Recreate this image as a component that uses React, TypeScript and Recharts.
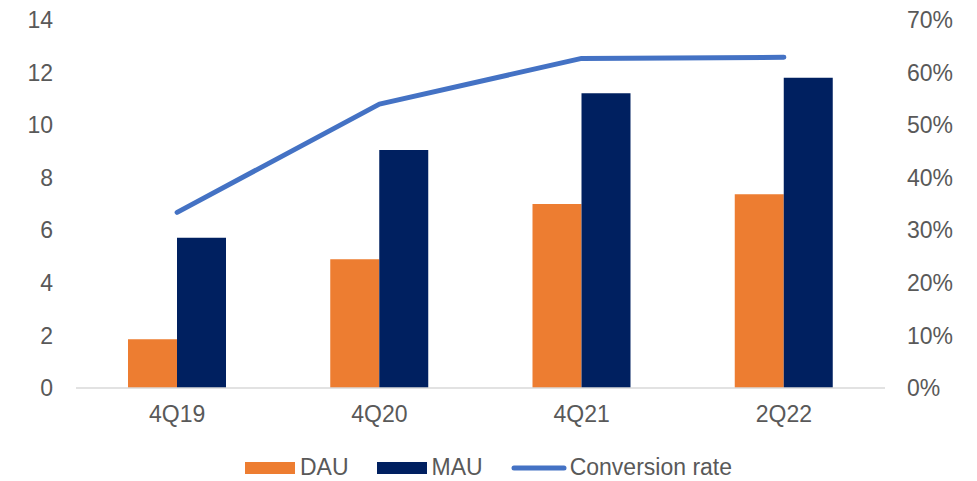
import React from "react";
import {
  ComposedChart,
  Bar,
  Line,
  XAxis,
  YAxis,
} from "recharts";

// Quarterly user figures (millions) and DAU/MAU conversion rate (%)
const quarters = ["4Q19", "4Q20", "4Q21", "2Q22"];
const dau = [1.85, 4.9, 7.0, 7.37];
const mau = [5.72, 9.05, 11.21, 11.8];
const conversionRate = [33.4, 54.0, 62.7, 62.9];

const leftTicks = [0, 2, 4, 6, 8, 10, 12, 14];
const rightTicks = [0, 10, 20, 30, 40, 50, 60, 70];

const COLORS = {
  dau: "#ED7D31",
  mau: "#002060",
  rate: "#4472C4",
  text: "#595959",
  axis: "#D9D9D9",
};

const FONT = "'Liberation Sans', Arial, sans-serif";
const FONT_SIZE = 23;

const data = quarters.map((q, i) => ({
  quarter: q,
  DAU: dau[i],
  MAU: mau[i],
  rate: conversionRate[i],
}));

const legendItems = [
  { label: "DAU", color: COLORS.dau, kind: "bar" },
  { label: "MAU", color: COLORS.mau, kind: "bar" },
  { label: "Conversion rate", color: COLORS.rate, kind: "line" },
];

function ChartLegend() {
  return (
    <div
      style={{
        display: "flex",
        justifyContent: "center",
        alignItems: "center",
        fontFamily: FONT,
        fontSize: FONT_SIZE,
        color: COLORS.text,
        gap: 28,
      }}
    >
      {legendItems.map((item) => (
        <div key={item.label} style={{ display: "flex", alignItems: "center" }}>
          {item.kind === "bar" ? (
            <span
              style={{
                display: "inline-block",
                width: 50,
                height: 12,
                background: item.color,
                marginRight: 5,
              }}
            />
          ) : (
            <svg width={56} height={8} style={{ marginRight: 3 }}>
              <line
                x1={3}
                y1={4}
                x2={53}
                y2={4}
                stroke={item.color}
                strokeWidth={5}
                strokeLinecap="round"
              />
            </svg>
          )}
          <span>{item.label}</span>
        </div>
      ))}
    </div>
  );
}

export default function App() {
  const tickStyle = { fill: COLORS.text, fontSize: FONT_SIZE, fontFamily: FONT };
  return (
    <div style={{ position: "absolute", left: 0, top: 0, width: 977, height: 481, background: "#fff" }}>
      <ComposedChart
        width={977}
        height={481}
        data={data}
        margin={{ top: 20, right: 0, bottom: 0, left: 0 }}
        barGap={0}
      >
        <XAxis
          dataKey="quarter"
          tick={tickStyle}
          tickLine={false}
          axisLine={{ stroke: COLORS.axis, strokeWidth: 1.5 }}
          tickMargin={12}
          height={93}
        />
        <YAxis
          yAxisId="left"
          domain={[0, 14]}
          ticks={leftTicks}
          tick={tickStyle}
          tickLine={false}
          axisLine={false}
          tickSize={0}
          tickMargin={23}
          width={76}
          interval={0}
        />
        <YAxis
          yAxisId="right"
          orientation="right"
          domain={[0, 70]}
          ticks={rightTicks}
          tickFormatter={(v) => `${v}%`}
          tick={{ ...tickStyle, textAnchor: "start" }}
          tickLine={false}
          axisLine={false}
          tickSize={0}
          tickMargin={22}
          width={92}
          interval={0}
        />
        <Bar yAxisId="left" dataKey="DAU" fill={COLORS.dau} barSize={49} isAnimationActive={false} />
        <Bar yAxisId="left" dataKey="MAU" fill={COLORS.mau} barSize={49} isAnimationActive={false} />
        <Line
          yAxisId="right"
          dataKey="rate"
          stroke={COLORS.rate}
          strokeWidth={5}
          strokeLinecap="round"
          strokeLinejoin="round"
          dot={false}
          activeDot={false}
          type="linear"
          isAnimationActive={false}
        />
      </ComposedChart>
      <div style={{ position: "absolute", left: 0, top: 454, width: 977 }}>
        <ChartLegend />
      </div>
    </div>
  );
}
